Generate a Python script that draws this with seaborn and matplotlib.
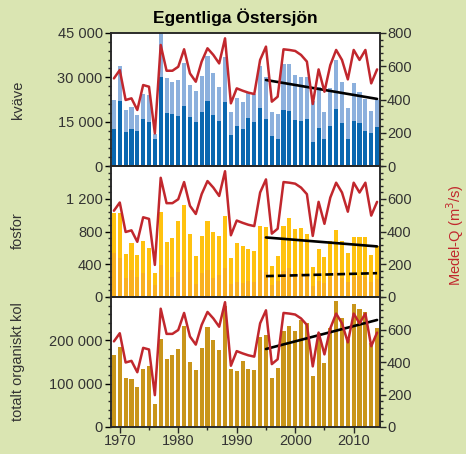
import numpy as np
import pandas as pd
import matplotlib
matplotlib.use('Agg')
import matplotlib.pyplot as plt
from matplotlib.ticker import FuncFormatter, MultipleLocator
import seaborn as sns

# År och medelvattenföring (Medel-Q, m3/s)
years = list(range(1969, 2015))
medel_q = [527, 577, 397, 407, 337, 487, 477, 196, 728, 573,
           573, 597, 702, 557, 507, 628, 708, 668, 617, 768,
           377, 467, 453, 441, 433, 638, 718, 387, 417, 702,
           698, 692, 668, 628, 373, 581, 447, 607, 698, 638,
           521, 698, 638, 698, 497, 581]

# kväve: total (ljusblå) och del (mörkblå)
kvave_tot = [22300, 33900, 18900, 20100, 17400, 24400, 24000, 10800, 46000, 29900,
             28500, 29100, 34700, 27400, 25500, 30600, 37300, 31600, 26800, 37000,
             18400, 23100, 21800, 24800, 24400, 33900, 30200, 18400, 17600, 34500,
             34500, 30900, 30100, 30100, 22100, 26600, 18400, 26300, 35900, 28500,
             19600, 28200, 25200, 22600, 18700, 22300]
kvave_del = [12400, 22100, 11600, 12600, 12000, 15900, 14900, 9250, 30200, 18000,
             17500, 17000, 20400, 16700, 15000, 18400, 22100, 17300, 15300, 21800,
             10600, 13500, 12400, 16400, 15000, 19700, 16000, 10300, 9000, 18900,
             18700, 15600, 15300, 15800, 8200, 13000, 9250, 13500, 19400, 14700,
             9250, 15300, 14400, 12000, 11300, 13300]

# fosfor: total (gul) och del (orange)
fosfor_tot = [1022, 1022, 525, 659, 517, 679, 598, 295, 1042, 667,
              719, 933, 1127, 764, 501, 739, 933, 800, 743, 994,
              473, 655, 618, 582, 558, 873, 861, 380, 501, 873,
              970, 828, 840, 764, 368, 582, 489, 679, 824, 679,
              533, 727, 727, 727, 509, 618]
fosfor_del = [533, 473, 230, 327, 242, 291, 206, 145, 388, 206,
              242, 303, 448, 327, 158, 291, 327, 230, 267, 351,
              158, 182, 170, 200, 180, 330, 300, 150, 200, 320,
              350, 280, 290, 260, 140, 200, 170, 250, 300, 230,
              180, 250, 260, 250, 180, 220]

# totalt organiskt kol
toc = [166200, 185400, 112300, 110800, 92300, 133900, 140800, 53100, 203100, 156900,
       166200, 180000, 233100, 150000, 131600, 182300, 230800, 200800, 177700, 280000,
       133900, 129200, 152300, 133900, 131600, 208500, 212300, 113100, 136200, 221600,
       233100, 221600, 247000, 239300, 117700, 216200, 147700, 227700, 290800, 252300,
       203100, 283900, 272300, 266200, 193100, 229300]

# trendlinjer (1995-2014)
trend_years = [1995, 2014]
trend_kvave = [29100, 22700]
trend_fosfor = [727, 618]
trend_fosfor_del = [255, 291]
trend_toc = [180000, 247000]

bg = '#dae5b2'
red = '#c1272d'
txt = '#333333'

sns.set_style('ticks')
plt.rcParams['font.family'] = ['Liberation Sans', 'DejaVu Sans']
plt.rcParams['axes.linewidth'] = 1.1

df = pd.DataFrame({'year': years, 'q': medel_q,
                   'kv_tot': kvave_tot, 'kv_del': kvave_del,
                   'p_tot': fosfor_tot, 'p_del': fosfor_del, 'toc': toc})

fig = plt.figure(figsize=(4.66, 4.54), dpi=100, facecolor=bg)
L, W = 111 / 466, 269 / 466
ax1 = fig.add_axes([L, 1 - 166 / 454, W, 133 / 454])
ax2 = fig.add_axes([L, 1 - 297 / 454, W, 131 / 454])
ax3 = fig.add_axes([L, 1 - 427 / 454, W, 130 / 454])

def space_fmt(v, pos):
    return f'{int(v):,}'.replace(',', ' ')

bar_kw = dict(x='year', native_scale=True, width=0.7, linewidth=0,
              saturation=1, errorbar=None)

sns.barplot(data=df, y='kv_tot', color='#8cb0dd', ax=ax1, **bar_kw)
sns.barplot(data=df, y='kv_del', color='#0a67b0', ax=ax1, **bar_kw)
ax1.plot(trend_years, trend_kvave, color='black', lw=1.9, zorder=5)

sns.barplot(data=df, y='p_tot', color='#ffc20f', ax=ax2, **bar_kw)
sns.barplot(data=df, y='p_del', color='#f9b020', ax=ax2, **bar_kw)
ax2.plot(trend_years, trend_fosfor, color='black', lw=1.9, zorder=5)
ax2.plot(trend_years, trend_fosfor_del, color='black', lw=1.9, ls=(0, (3, 1.5)), zorder=5)

sns.barplot(data=df, y='toc', color='#c9951a', ax=ax3, **bar_kw)
ax3.plot(trend_years, trend_toc, color='black', lw=1.9, zorder=5)

limits = [(45000, [0, 15000, 30000, 45000], 3000),
          (1600, [0, 400, 800, 1200], 80),
          (300000, [0, 100000, 200000], 20000)]

for i, (ax, (top, ticks, minor)) in enumerate(zip([ax1, ax2, ax3], limits)):
    ax.set_facecolor('white')
    ax.set_xlim(1968.5, 2014.5)
    ax.set_ylim(0, top)
    ax.set_yticks(ticks)
    ax.yaxis.set_minor_locator(MultipleLocator(minor))
    ax.yaxis.set_major_formatter(FuncFormatter(space_fmt))
    ax.set_xticks([1970, 1980, 1990, 2000, 2010])
    ax.xaxis.set_minor_locator(MultipleLocator(5))
    ax.set_xlabel('')
    ax.set_ylabel('')
    ax.tick_params(axis='y', which='major', length=4, width=1, labelsize=10.5,
                   colors='black', labelcolor=txt, pad=2)
    ax.tick_params(axis='y', which='minor', length=2.5, width=1)
    ax.tick_params(axis='x', which='major', length=4, width=1, labelsize=10.5,
                   labelcolor=txt, pad=1)
    ax.tick_params(axis='x', which='minor', length=2.5, width=1)
    if i < 2:
        ax.tick_params(axis='x', which='both', labelbottom=False, length=0)

    axr = ax.twinx()
    sns.lineplot(data=df, x='year', y='q', color=red, lw=1.8, ax=axr)
    axr.set_xlim(1968.5, 2014.5)
    axr.set_ylim(0, 800)
    axr.set_yticks([0, 200, 400, 600, 800] if i == 0 else [0, 200, 400, 600])
    axr.yaxis.set_minor_locator(MultipleLocator(40))
    axr.set_ylabel('')
    axr.set_xlabel('')
    axr.tick_params(axis='y', which='major', length=4, width=1, labelsize=10.5,
                    labelcolor=txt, pad=1)
    axr.tick_params(axis='y', which='minor', length=2.5, width=1)

fig.text(0.506, 0.963, 'Egentliga Östersjön', ha='center', va='center',
         fontsize=12.5, fontweight='bold', color='black')
fig.text(0.039, 1 - 100 / 454, 'kväve', rotation=90, ha='center', va='center',
         fontsize=10.5, color=txt)
fig.text(0.039, 1 - 231 / 454, 'fosfor', rotation=90, ha='center', va='center',
         fontsize=10.5, color=txt)
fig.text(0.039, 1 - 362 / 454, 'totalt organiskt kol', rotation=90, ha='center',
         va='center', fontsize=10.5, color=txt)
fig.text(0.976, 1 - 235 / 454, 'Medel-Q (m$^3$/s)', rotation=90, ha='center',
         va='center', fontsize=10.5, color=red)

fig.savefig('out.png', dpi=100, facecolor=bg)
